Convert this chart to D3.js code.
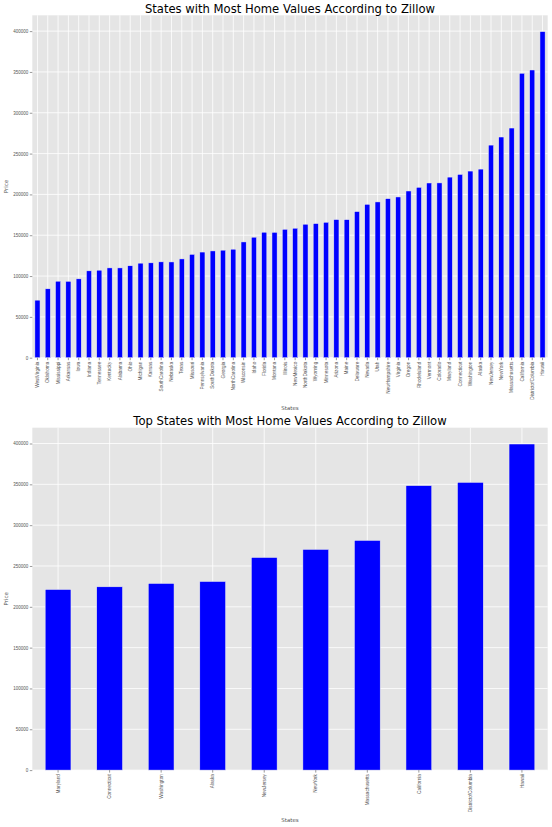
<!DOCTYPE html>
<html lang="en">
<head>
    <meta charset="utf-8">
    <title>Home Values According to Zillow</title>
    <script src="https://d3js.org/d3.v7.min.js"></script>
    <style>
        body { margin: 0; background: #fff; }
        svg { font-family: "DejaVu Sans", sans-serif; }
        .tick text { fill: #555; }
        .tick line { stroke: #555; }
        .domain { display: none; }
    </style>
</head>
<body>
    <div id="chart"></div>

    <script>
        // States sorted by home value
        const states = [
            "WestVirginia", "Oklahoma", "Mississippi", "Arkansas", "Iowa",
            "Indiana", "Tennessee", "Kentucky", "Alabama", "Ohio",
            "Michigan", "Kansas", "SouthCarolina", "Nebraska", "Texas",
            "Missouri", "Pennsylvania", "SouthDakota", "Georgia", "NorthCarolina",
            "Wisconsin", "Idaho", "Florida", "Montana", "Illinois",
            "NewMexico", "NorthDakota", "Wyoming", "Minnesota", "Arizona",
            "Maine", "Delaware", "Nevada", "Utah", "NewHampshire",
            "Virginia", "Oregon", "RhodeIsland", "Vermont", "Colorado",
            "Maryland", "Connecticut", "Washington", "Alaska", "NewJersey",
            "NewYork", "Massachusetts", "California", "DistrictofColumbia", "Hawaii"
        ];

        const prices = [
            70500, 84400, 93700, 93600, 96600,
            106400, 107200, 110000, 110000, 112600,
            115800, 116200, 117400, 117300, 121000,
            126600, 129400, 130800, 131700, 132900,
            141800, 147600, 153700, 153600, 157300,
            158600, 163500, 164300, 165900, 169200,
            169100, 179000, 187900, 190800, 194800,
            196900, 204200, 208700, 214000, 214100,
            221200, 224500, 228600, 231000, 260400,
            270300, 281300, 348400, 352400, 399400
        ];

        const yTicks = [0, 50000, 100000, 150000, 200000, 250000, 300000, 350000, 400000];

        const width = 552;
        const height = 827;

        const svg = d3.select("#chart").append("svg")
            .attr("width", width)
            .attr("height", height);

        function drawPanel(names, values, top, title) {
            const left = 32.3, right = 547.7;
            const bottom = top + 342.4;
            const data = names.map((n, i) => ({state: n, price: values[i]}));

            const x = d3.scaleBand()
                .domain(names)
                .range([left, right])
                .paddingInner(0.5)
                .paddingOuter(0.25);

            const y = d3.scaleLinear()
                .domain([0, d3.max(values) * 1.05])
                .range([bottom, top]);

            const g = svg.append("g");

            // background
            g.append("rect")
                .attr("x", left)
                .attr("y", top)
                .attr("width", right - left)
                .attr("height", bottom - top)
                .attr("fill", "#e5e5e5");

            // grid
            g.append("g")
                .selectAll("line.h")
                .data(yTicks)
                .join("line")
                .attr("x1", left)
                .attr("x2", right)
                .attr("y1", d => y(d))
                .attr("y2", d => y(d))
                .attr("stroke", "#fff")
                .attr("stroke-width", 0.8);

            g.append("g")
                .selectAll("line.v")
                .data(names)
                .join("line")
                .attr("x1", d => x(d) + x.bandwidth() / 2)
                .attr("x2", d => x(d) + x.bandwidth() / 2)
                .attr("y1", top)
                .attr("y2", bottom)
                .attr("stroke", "#fff")
                .attr("stroke-width", 0.8);

            // bars
            g.append("g")
                .selectAll("rect")
                .data(data)
                .join("rect")
                .attr("x", d => x(d.state))
                .attr("y", d => y(d.price))
                .attr("width", x.bandwidth())
                .attr("height", d => y(0) - y(d.price))
                .attr("fill", "#0000ff")
                .attr("stroke", "#eeeeee")
                .attr("stroke-width", 0.5);

            // y axis
            g.append("g")
                .attr("transform", `translate(${left},0)`)
                .call(d3.axisLeft(y).tickValues(yTicks).tickSize(2.5).tickPadding(1.5).tickFormat(d3.format("d")))
                .call(a => a.selectAll("text").style("font-size", "4.5px"));

            // x axis
            g.append("g")
                .attr("transform", `translate(0,${bottom})`)
                .call(d3.axisBottom(x).tickSize(2.5).tickPadding(1.5))
                .call(a => a.selectAll("text")
                    .style("font-size", "4.7px")
                    .attr("text-anchor", "end")
                    .attr("dy", "0.35em")
                    .attr("transform", "rotate(-90)")
                    .attr("x", -4)
                    .attr("y", 0));

            g.selectAll(".tick line").attr("stroke-width", 0.6);

            // labels
            g.append("text")
                .attr("x", (left + right) / 2)
                .attr("y", top - 2.8)
                .attr("text-anchor", "middle")
                .style("font-size", "11.6px")
                .attr("fill", "#000")
                .text(title);

            g.append("text")
                .attr("transform", `translate(7.6,${(top + bottom) / 2}) rotate(-90)`)
                .attr("text-anchor", "middle")
                .style("font-size", "5.5px")
                .attr("fill", "#555")
                .text("Price");

            g.append("text")
                .attr("x", (left + right) / 2)
                .attr("y", bottom + 52.3)
                .attr("text-anchor", "middle")
                .style("font-size", "5.5px")
                .attr("fill", "#555")
                .text("States");
        }

        drawPanel(states, prices, 15.3, "States with Most Home Values According to Zillow");
        drawPanel(states.slice(-10), prices.slice(-10), 427.7, "Top States with Most Home Values According to Zillow");
    </script>
</body>
</html>
